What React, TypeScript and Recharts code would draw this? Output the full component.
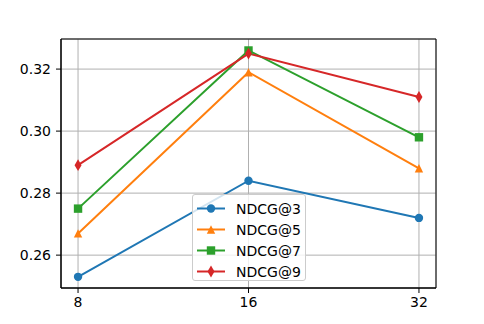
import { LineChart, Line, XAxis, YAxis, CartesianGrid, Legend, ReferenceArea } from "recharts";

const xLabels = ["8", "16", "32"];
const ndcg3 = [0.253, 0.284, 0.272];
const ndcg5 = [0.267, 0.319, 0.288];
const ndcg7 = [0.275, 0.326, 0.298];
const ndcg9 = [0.289, 0.325, 0.311];
const yTicks = [0.26, 0.28, 0.3, 0.32];

const series = [
  { key: "ndcg3", name: "NDCG@3", color: "#1f77b4", marker: "circle" },
  { key: "ndcg5", name: "NDCG@5", color: "#ff7f0e", marker: "triangle" },
  { key: "ndcg7", name: "NDCG@7", color: "#2ca02c", marker: "square" },
  { key: "ndcg9", name: "NDCG@9", color: "#d62728", marker: "diamond" },
];

const data = xLabels.map((label, i) => ({
  idx: i,
  label,
  ndcg3: ndcg3[i],
  ndcg5: ndcg5[i],
  ndcg7: ndcg7[i],
  ndcg9: ndcg9[i],
}));

const Y_MIN = 0.2494;
const Y_MAX = 0.3297;

function Marker({ kind, cx, cy, color }: { kind: string; cx: number; cy: number; color: string }) {
  const s = 4.2;
  if (kind === "circle") return <circle cx={cx} cy={cy} r={s} fill={color} />;
  if (kind === "square")
    return <rect x={cx - s} y={cy - s} width={s * 2} height={s * 2} fill={color} />;
  if (kind === "triangle")
    return (
      <polygon
        points={`${cx},${cy - s} ${cx - s},${cy + s} ${cx + s},${cy + s}`}
        fill={color}
      />
    );
  const h = 5.9;
  const w = 3.5;
  return (
    <polygon
      points={`${cx},${cy - h} ${cx + w},${cy} ${cx},${cy + h} ${cx - w},${cy}`}
      fill={color}
    />
  );
}

function LegendBox() {
  return (
    <div
      style={{
        width: 112,
        height: 85,
        border: "1px solid #cccccc",
        borderRadius: 3,
        background: "rgba(255,255,255,0.8)",
        fontFamily: "DejaVu Sans",
        fontSize: 14,
        color: "#000",
        boxSizing: "content-box",
      }}
    >
      {series.map((s, i) => (
        <div
          key={s.key}
          style={{ position: "absolute", left: 0, top: 4 + i * 21, height: 21, width: 114 }}
        >
          <svg width={40} height={21} style={{ position: "absolute", left: 0, top: 0 }}>
            <line x1={5} y1={10.5} x2={33} y2={10.5} stroke={s.color} strokeWidth={2} />
            <Marker kind={s.marker} cx={19} cy={10.5} color={s.color} />
          </svg>
          <span style={{ position: "absolute", left: 44, top: 1, lineHeight: "20px" }}>
            {s.name}
          </span>
        </div>
      ))}
    </div>
  );
}

export default function App() {
  return (
    <div
      style={{
        position: "absolute",
        left: 0,
        top: 0,
        width: 484,
        height: 324,
        background: "#fff",
        fontFamily: "DejaVu Sans",
      }}
    >
      <LineChart width={484} height={324} data={data} margin={{ top: 39, right: 48, left: 11, bottom: 6 }}>
        <CartesianGrid stroke="#b0b0b0" strokeWidth={1} />
        <XAxis
          dataKey="idx"
          type="number"
          domain={[-0.1, 2.1]}
          ticks={[0, 1, 2]}
          tickFormatter={(v) => xLabels[v]}
          height={30}
          stroke="#000"
          tick={{ fill: "#000", fontSize: 14 }}
          tickSize={5}
          tickMargin={4}
          allowDataOverflow
        />
        <YAxis
          type="number"
          domain={[Y_MIN, Y_MAX]}
          ticks={yTicks}
          tickFormatter={(v) => v.toFixed(2)}
          width={50}
          stroke="#000"
          tick={{ fill: "#000", fontSize: 14 }}
          tickSize={5}
          tickMargin={5}
          allowDataOverflow
        />
        {series.map((s) => (
          <Line
            key={s.key}
            dataKey={s.key}
            name={s.name}
            stroke={s.color}
            strokeWidth={2}
            isAnimationActive={false}
            dot={(p: any) => (
              <Marker key={`${s.key}-${p.index}`} kind={s.marker} cx={p.cx} cy={p.cy} color={s.color} />
            )}
            activeDot={false}
          />
        ))}
        <ReferenceArea
          x1={-0.1}
          x2={2.1}
          y1={Y_MIN}
          y2={Y_MAX}
          fill="none"
          fillOpacity={0}
          stroke="#000"
          strokeWidth={1}
          ifOverflow="visible"
        />
        <Legend
          layout="vertical"
          align="center"
          verticalAlign="middle"
          content={() => <LegendBox />}
          wrapperStyle={{ left: 192, top: 194, width: 114, height: 87 }}
        />
      </LineChart>
    </div>
  );
}
